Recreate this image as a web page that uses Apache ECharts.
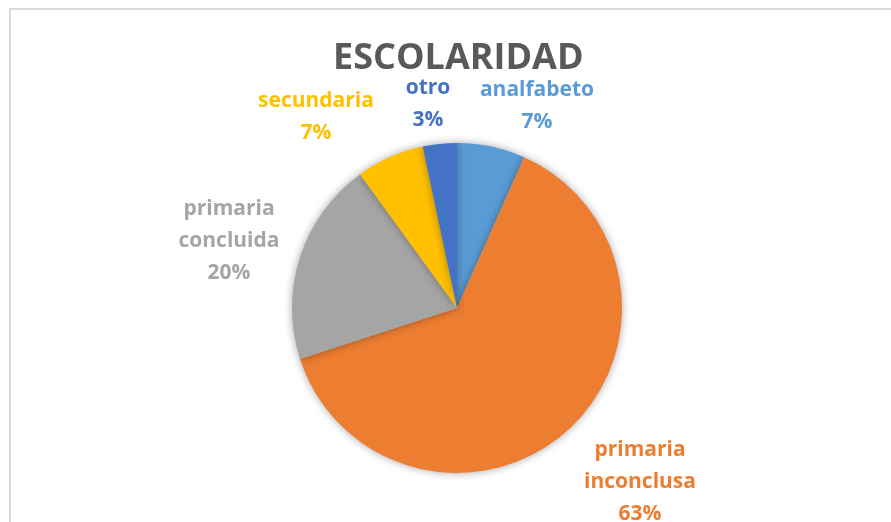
<!DOCTYPE html>
<html>
<head>
<meta charset="utf-8">
<script src="https://cdn.jsdelivr.net/npm/echarts@6/dist/echarts.min.js"></script>
<style>
  html, body { margin: 0; padding: 0; background: #fff; }
  #chart { width: 891px; height: 522px; }
</style>
</head>
<body>
<div id="chart"></div>
<script>
// data (counts give 7/63/20/7/3 %)
const categories = ["analfabeto", "primaria inconclusa", "primaria concluida", "secundaria", "otro"];
const counts = [2, 19, 6, 2, 1];
const colors = ["#5B9BD5", "#ED7D31", "#A5A5A5", "#FFC000", "#4472C4"];
// label centres (text only)
const labelPos = [[537, 106], [640, 482], [229, 241], [316, 117], [428, 104]];

const chart = echarts.init(document.getElementById("chart"));

chart.setOption({
  backgroundColor: "#fff",
  animation: false,
  title: {
    text: "ESCOLARIDAD",
    left: 328,
    top: 36,
    textStyle: {
      fontFamily: "Open Sans",
      fontWeight: "bold",
      fontSize: 36,
      color: "#595959",
    },
  },
  graphic: [
    {
      type: "rect",
      shape: { x: 10, y: 9, width: 1000, height: 1000 },
      style: { fill: "none", stroke: "#d9d9d9", lineWidth: 2 },
      silent: true,
    },
  ],
  color: colors,
  series: [
    {
      type: "pie",
      center: [457, 308],
      radius: 165,
      startAngle: 90,
      clockwise: true,
      percentPrecision: 0,
      itemStyle: {
        shadowBlur: 8,
        shadowColor: "rgba(0,0,0,0.35)",
      },
      label: {
        show: true,
        position: "outside",
        formatter: (p) => p.name.replace(" ", "\n") + "\n" + p.percent + "%",
        fontFamily: "Open Sans",
        fontWeight: "bold",
        fontSize: 21,
        lineHeight: 32,
        align: "center",
        color: "inherit",
      },
      labelLine: { show: false },
      labelLayout: (params) => ({
        x: labelPos[params.dataIndex][0],
        y: labelPos[params.dataIndex][1],
        align: "center",
        verticalAlign: "middle",
      }),
      data: categories.map((name, i) => ({
        name: name,
        value: counts[i],
        label: { color: colors[i] },
      })),
    },
  ],
});
</script>
</body>
</html>
